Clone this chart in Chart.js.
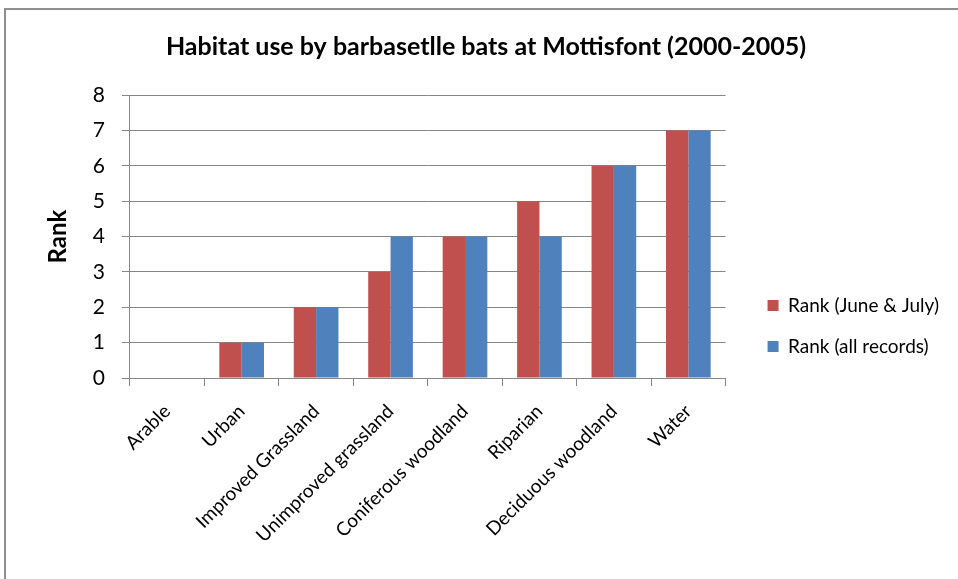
<!DOCTYPE html>
<html>
<head>
<meta charset="utf-8">
<script src="https://cdn.jsdelivr.net/npm/chart.js@4.4.1/dist/chart.umd.min.js"></script>
<style>
  html,body{margin:0;padding:0;background:#fff;overflow:hidden;}
  #frame{position:absolute;left:4px;top:8px;width:980px;height:600px;border-left:2px solid #8f8f8f;border-top:2px solid #8f8f8f;}
  #c{position:absolute;left:0;top:0;}
</style>
</head>
<body>
<div id="frame"><canvas id="c" width="964" height="569"></canvas></div>
<script>
// habitat categories (x axis)
const habitats = ['Arable','Urban','Improved Grassland','Unimproved grassland','Coniferous woodland','Riparian','Deciduous woodland','Water'];
// ranks
const rankJuneJuly = [0,1,2,3,4,5,6,7];
const rankAllRecords = [0,1,2,4,4,4,6,7];
const seriesNames = ['Rank (June & July)','Rank (all records)'];
const yTicks = [0,1,2,3,4,5,6,7,8];

const FONT = 'Lato, "Open Sans", sans-serif';
const GRID = '#868686';

// excel puts the legend further right and lower than chart.js does
const legendPlace = {
  id:'legendPlace',
  afterLayout(chart){
    const lg = chart.legend;
    if(!lg) return;
    lg.left += 20; lg.right += 20;
    const h = lg.bottom - lg.top;
    lg.top = chart.chartArea.top + 179;
    lg.bottom = lg.top + h;
  }
};

new Chart(document.getElementById('c'), {
  type:'bar',
  data:{
    labels: habitats,
    datasets:[
      { label:seriesNames[0], data:rankJuneJuly, backgroundColor:'#C0504D', categoryPercentage:0.6, barPercentage:1.0 },
      { label:seriesNames[1], data:rankAllRecords, backgroundColor:'#4F81BD', categoryPercentage:0.6, barPercentage:1.0 }
    ]
  },
  options:{
    responsive:false, animation:false,
    layout:{ padding:{ left:37, right:41, top:0, bottom:18 } },
    plugins:{
      title:{ display:true, text:'Habitat use by barbasetlle bats at Mottisfont (2000-2005)',
        color:'#000', font:{ family:FONT, size:25, weight:'bold' }, padding:{ top:22, bottom:33 } },
      legend:{ position:'right', align:'start',
        labels:{ boxWidth:11, boxHeight:11, padding:22, color:'#000', font:{ family:FONT, size:19 } } },
      tooltip:{ enabled:false }
    },
    scales:{
      x:{
        grid:{ drawOnChartArea:false, drawTicks:true, tickLength:8, color:GRID, offset:true },
        border:{ color:GRID },
        ticks:{ color:'#000', font:{ family:FONT, size:19 }, minRotation:45, maxRotation:45, autoSkip:false, padding:14 }
      },
      y:{
        min:0, max:8,
        afterBuildTicks(s){ s.ticks = yTicks.map(v=>({value:v})); },
        grid:{ color:GRID, tickLength:8 },
        border:{ color:GRID },
        ticks:{ color:'#000', font:{ family:FONT, size:21 }, padding:17 },
        title:{ display:true, text:'Rank', color:'#000', font:{ family:FONT, size:24, weight:'bold' }, padding:{ top:1, bottom:3 } }
      }
    }
  },
  plugins:[legendPlace]
});
</script>
</body>
</html>
